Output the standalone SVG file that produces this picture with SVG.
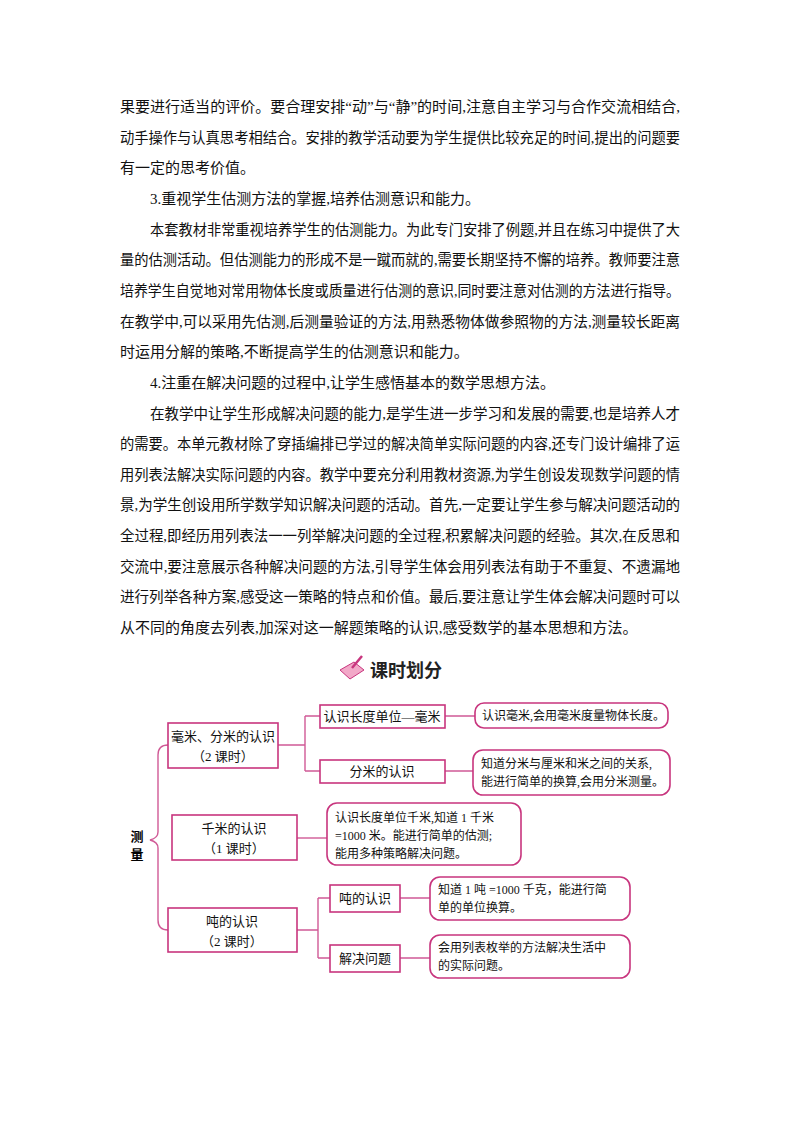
<svg xmlns="http://www.w3.org/2000/svg" width="800" height="1132" viewBox="0 0 800 1132">
<style>
.p{font-family:"Liberation Serif","Noto Sans CJK SC",serif;font-size:15px;fill:#111}
.t{font-family:"Liberation Serif","Noto Sans CJK SC",serif;font-size:13px;fill:#111;text-anchor:middle}
.d{font-family:"Liberation Serif","Noto Sans CJK SC",serif;font-size:12px;fill:#111}
.b{fill:#fff;stroke:#c8357e;stroke-width:1.6}
.l{fill:none;stroke:#d05a96;stroke-width:1.4}
.r{font-family:"Noto Sans CJK SC",sans-serif;font-size:13px;font-weight:bold;text-anchor:middle}
</style>
<rect width="800" height="1132" fill="#fff"/>
<g class="p">
<text x="120" y="112" textLength="560" lengthAdjust="spacingAndGlyphs">果要进行适当的评价。要合理安排“动”与“静”的时间,注意自主学习与合作交流相结合,</text>
<text x="120" y="143" textLength="560" lengthAdjust="spacingAndGlyphs">动手操作与认真思考相结合。安排的教学活动要为学生提供比较充足的时间,提出的问题要</text>
<text x="120" y="173">有一定的思考价值。</text>
<text x="150" y="204">3.重视学生估测方法的掌握,培养估测意识和能力。</text>
<text x="150" y="235" textLength="530" lengthAdjust="spacingAndGlyphs">本套教材非常重视培养学生的估测能力。为此专门安排了例题,并且在练习中提供了大</text>
<text x="120" y="265" textLength="560" lengthAdjust="spacingAndGlyphs">量的估测活动。但估测能力的形成不是一蹴而就的,需要长期坚持不懈的培养。教师要注意</text>
<text x="120" y="296" textLength="560" lengthAdjust="spacingAndGlyphs">培养学生自觉地对常用物体长度或质量进行估测的意识,同时要注意对估测的方法进行指导。</text>
<text x="120" y="327" textLength="560" lengthAdjust="spacingAndGlyphs">在教学中,可以采用先估测,后测量验证的方法,用熟悉物体做参照物的方法,测量较长距离</text>
<text x="120" y="357">时运用分解的策略,不断提高学生的估测意识和能力。</text>
<text x="150" y="388">4.注重在解决问题的过程中,让学生感悟基本的数学思想方法。</text>
<text x="150" y="419" textLength="530" lengthAdjust="spacingAndGlyphs">在教学中让学生形成解决问题的能力,是学生进一步学习和发展的需要,也是培养人才</text>
<text x="120" y="449" textLength="560" lengthAdjust="spacingAndGlyphs">的需要。本单元教材除了穿插编排已学过的解决简单实际问题的内容,还专门设计编排了运</text>
<text x="120" y="480" textLength="560" lengthAdjust="spacingAndGlyphs">用列表法解决实际问题的内容。教学中要充分利用教材资源,为学生创设发现数学问题的情</text>
<text x="120" y="510" textLength="560" lengthAdjust="spacingAndGlyphs">景,为学生创设用所学数学知识解决问题的活动。首先,一定要让学生参与解决问题活动的</text>
<text x="120" y="541" textLength="560" lengthAdjust="spacingAndGlyphs">全过程,即经历用列表法一一列举解决问题的全过程,积累解决问题的经验。其次,在反思和</text>
<text x="120" y="572" textLength="560" lengthAdjust="spacingAndGlyphs">交流中,要注意展示各种解决问题的方法,引导学生体会用列表法有助于不重复、不遗漏地</text>
<text x="120" y="602" textLength="560" lengthAdjust="spacingAndGlyphs">进行列举各种方案,感受这一策略的特点和价值。最后,要注意让学生体会解决问题时可以</text>
<text x="120" y="633">从不同的角度去列表,加深对这一解题策略的认识,感受数学的基本思想和方法。</text>
</g>
<g id="title">
<path d="M340 670 l14 -8 l10 8 l-14 9 z" fill="#f2a8c8" stroke="#c8357e"/>
<path d="M352 668 l10 -12" stroke="#c8357e" stroke-width="2.5"/>
<text x="370" y="677" style="font-family:'Noto Sans CJK SC',sans-serif;font-size:18px;font-weight:bold;fill:#222">课时划分</text>
</g>
<g id="root"><text class="r" x="137" y="841">测</text><text class="r" x="137" y="859">量</text></g>
<g id="connectors" class="l">
<path d="M168 745 Q158 745 158 755 L158 832 Q158 838 150 840 Q158 842 158 848 L158 920 Q158 930 168 930"/>
<path d="M278 745 H305 M305 716 V771 M305 716 H320 M305 771 H320"/>
<path d="M445 716 H475 M445 771 H473"/>
<path d="M297 838 H327"/>
<path d="M297 930 H318 M318 898 V958 M318 898 H330 M318 958 H330 M400 898 H430 M400 958 H430"/>
</g>
<g id="nA"><rect class="b" x="168" y="723" width="110" height="45"/><text class="t" x="223" y="741">毫米、分米的认识</text><text class="t" x="223" y="761">（2 课时）</text></g>
<g id="nA1"><rect class="b" x="320" y="705" width="125" height="23"/><text class="t" x="382" y="721">认识长度单位—毫米</text></g>
<g id="nA2"><rect class="b" x="320" y="760" width="125" height="23"/><text class="t" x="382" y="776">分米的认识</text></g>
<g id="dA1"><rect class="b" x="475" y="703" width="193" height="25" rx="9"/><text class="d" x="482" y="720">认识毫米,会用毫米度量物体长度。</text></g>
<g id="dA2"><rect class="b" x="473" y="750" width="197" height="45" rx="10"/><text class="d" x="481" y="768">知道分米与厘米和米之间的关系,</text><text class="d" x="481" y="786">能进行简单的换算,会用分米测量。</text></g>
<g id="nB"><rect class="b" x="172" y="815" width="125" height="45"/><text class="t" x="234" y="833">千米的认识</text><text class="t" x="234" y="853">（1 课时）</text></g>
<g id="dB"><rect class="b" x="327" y="803" width="194" height="62" rx="10"/><text class="d" x="335" y="822">认识长度单位千米,知道 1 千米</text><text class="d" x="335" y="840">=1000 米。能进行简单的估测;</text><text class="d" x="335" y="858">能用多种策略解决问题。</text></g>
<g id="nC"><rect class="b" x="168" y="908" width="129" height="44"/><text class="t" x="232" y="926">吨的认识</text><text class="t" x="232" y="946">（2 课时）</text></g>
<g id="nC1"><rect class="b" x="330" y="885" width="70" height="27"/><text class="t" x="365" y="903">吨的认识</text></g>
<g id="nC2"><rect class="b" x="330" y="945" width="70" height="27"/><text class="t" x="365" y="963">解决问题</text></g>
<g id="dC1"><rect class="b" x="430" y="877" width="200" height="43" rx="10"/><text class="d" x="438" y="894">知道 1 吨 =1000 千克，能进行简</text><text class="d" x="438" y="912">单的单位换算。</text></g>
<g id="dC2"><rect class="b" x="430" y="935" width="200" height="43" rx="10"/><text class="d" x="438" y="952">会用列表枚举的方法解决生活中</text><text class="d" x="438" y="970">的实际问题。</text></g>
</svg>
